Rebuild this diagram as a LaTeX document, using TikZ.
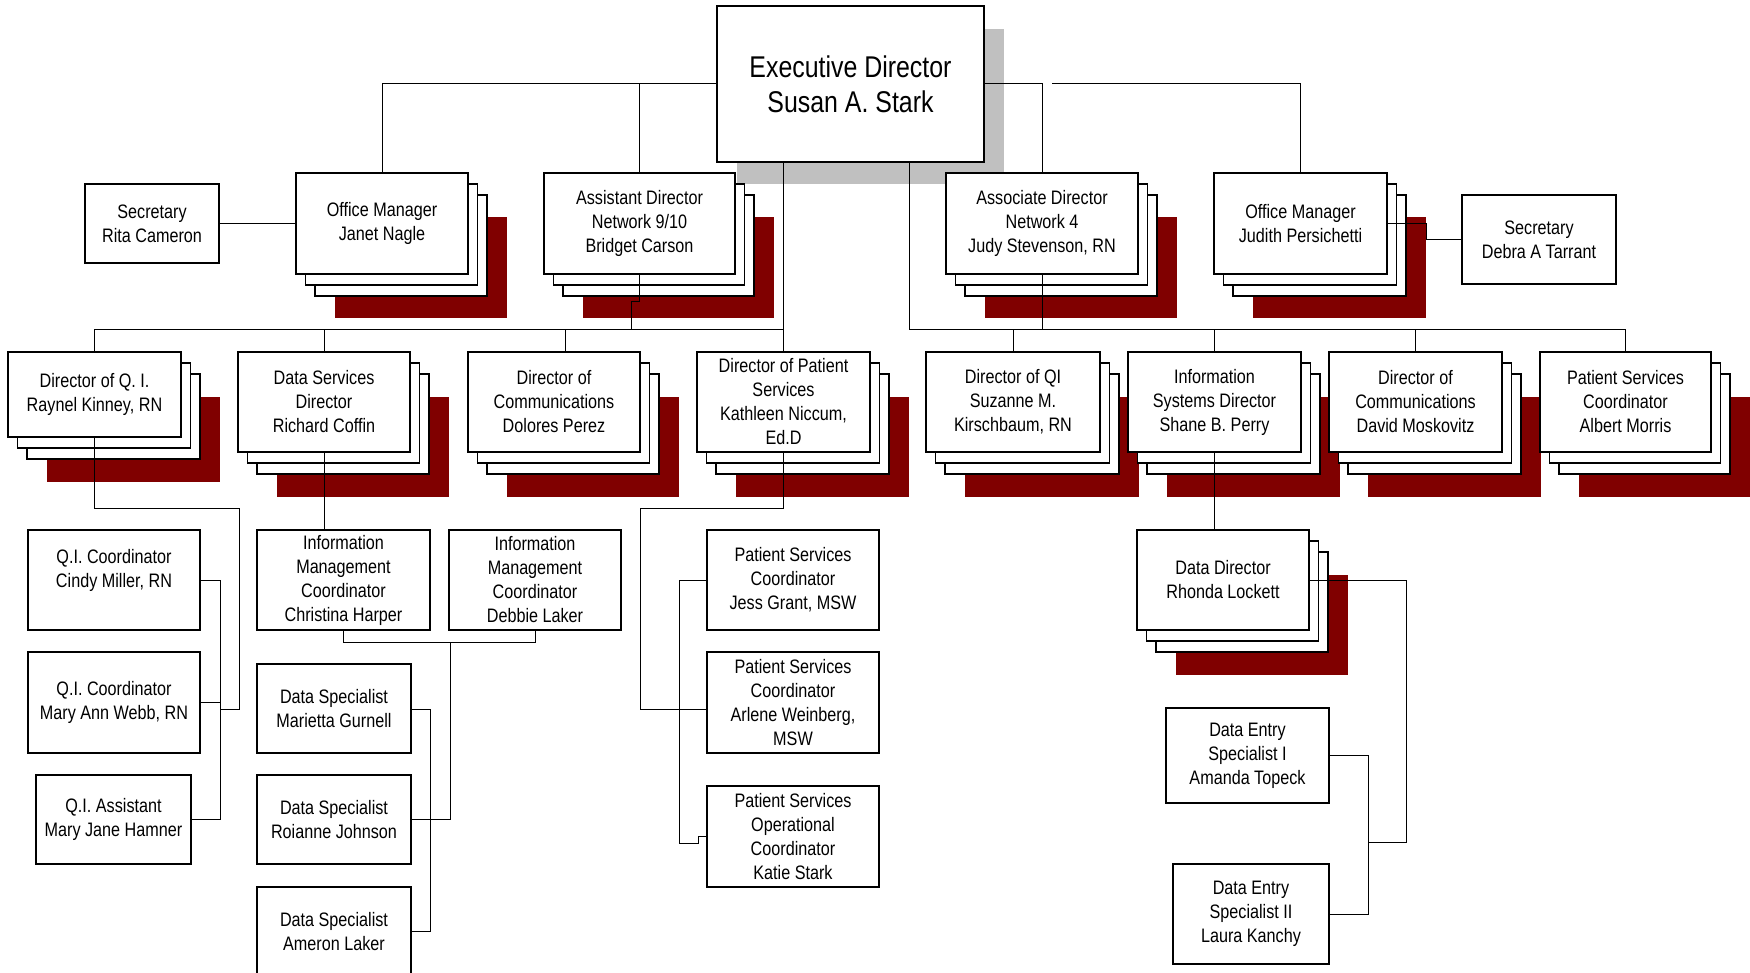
\documentclass[tikz,border=0pt]{standalone}
\usepackage{fontspec}
\setmainfont{Liberation Sans}[FakeStretch=0.83]
\definecolor{shred}{RGB}{128,0,0}
\definecolor{shgray}{RGB}{192,192,192}
\pgfdeclarelayer{bg}
\pgfdeclarelayer{mid}
\pgfsetlayers{bg,mid,main}
\tikzset{
  orgbox/.style={draw, line width=1.6pt, fill=white, inner sep=0pt, outer sep=0pt,
    align=center, font=\fontsize{19.5}{24}\selectfont},
  boxline/.style={draw, line width=1.6pt},
  conn/.style={draw, line width=1pt}
}
\newcommand\mkbox[7][]{%
  \pgfmathsetmacro\bxcx{(#3+#5)/2}\pgfmathsetmacro\bxcy{(#4+#6)/2}%
  \pgfmathsetmacro\bxw{#5-#3}\pgfmathsetmacro\bxh{#6-#4}%
  \node[orgbox, minimum width=\bxw pt, minimum height=\bxh pt, #1] (#2) at (\bxcx,\bxcy) {#7};}
\newcommand\stk[4]{%
  \begin{pgfonlayer}{bg}
  \fill[shred] (#1+38.5,#2+44.5) rectangle (#3+38.5,#4+44.5);
  \draw[boxline, fill=white] (#1+19,#2+22) rectangle (#3+19,#4+22);
  \draw[boxline, fill=white] (#1+9.5,#2+11) rectangle (#3+9.5,#4+11);
  \end{pgfonlayer}}
\begin{document}
\begin{tikzpicture}[x=1pt, y=-1pt]
\useasboundingbox (0,0) rectangle (1750,973);
% gray shadow of executive box
\begin{pgfonlayer}{bg}
\fill[shgray] (737,29) rectangle (1004,184);
\end{pgfonlayer}
% stacked shadows
\stk{296}{173}{468}{274}
\stk{544}{173}{735}{274}
\stk{946}{173}{1138}{274}
\stk{1214}{173}{1387}{274}
\stk{8}{352}{181}{437}
\stk{238}{352}{410}{452}
\stk{468}{352}{640}{452}
\stk{697}{352}{870}{452}
\stk{926}{352}{1100}{452}
\stk{1128}{352}{1301}{452}
\stk{1329}{352}{1502}{452}
\stk{1540}{352}{1711}{452}
\stk{1137}{530}{1309}{630}
% boxes
\mkbox[font=\fontsize{30}{35}\selectfont]{exec}{717}{6}{984}{162}{Executive Director\\Susan A. Stark}
\mkbox{rita}{85}{184}{219}{263}{Secretary\\Rita Cameron}
\mkbox{janet}{296}{173}{468}{274}{Office Manager\\Janet Nagle}
\mkbox{asst}{544}{173}{735}{274}{Assistant Director\\Network 9/10\\Bridget Carson}
\mkbox{assoc}{946}{173}{1138}{274}{Associate Director\\Network 4\\Judy Stevenson, RN}
\mkbox{judith}{1214}{173}{1387}{274}{Office Manager\\Judith Persichetti}
\mkbox{debra}{1462}{195}{1616}{284}{Secretary\\Debra A Tarrant}
\mkbox{raynel}{8}{352}{181}{437}{Director of Q. I.\\Raynel Kinney, RN}
\mkbox{rcoffin}{238}{352}{410}{452}{Data Services\\Director\\Richard Coffin}
\mkbox{dolores}{468}{352}{640}{452}{Director of\\Communications\\Dolores Perez}
\mkbox{kathleen}{697}{352}{870}{452}{Director of Patient\\Services\\Kathleen Niccum,\\Ed.D}
\mkbox{suzanne}{926}{352}{1100}{452}{Director of QI\\Suzanne M.\\Kirschbaum, RN}
\mkbox{shane}{1128}{352}{1301}{452}{Information\\Systems Director\\Shane B. Perry}
\mkbox{david}{1329}{352}{1502}{452}{Director of\\Communications\\David Moskovitz}
\mkbox{albert}{1540}{352}{1711}{452}{Patient Services\\Coordinator\\Albert Morris}
\mkbox{cindy}{28}{530}{200}{630}{Q.I. Coordinator\\Cindy Miller, RN\\\mbox{}}
\mkbox{maryann}{28}{652}{200}{753}{Q.I. Coordinator\\Mary Ann Webb, RN}
\mkbox{maryjane}{36}{775}{191}{864}{Q.I. Assistant\\Mary Jane Hamner}
\mkbox{christina}{257}{530}{430}{630}{Information\\Management\\Coordinator\\Christina Harper}
\mkbox{debbie}{449}{530}{621}{630}{Information\\Management\\Coordinator\\Debbie Laker}
\mkbox{marietta}{257}{664}{411}{753}{Data Specialist\\Marietta Gurnell}
\mkbox{roianne}{257}{775}{411}{864}{Data Specialist\\Roianne Johnson}
\mkbox{ameron}{257}{887}{411}{976}{Data Specialist\\Ameron Laker}
\mkbox{jess}{707}{530}{879}{630}{Patient Services\\Coordinator\\Jess Grant, MSW}
\mkbox{arlene}{707}{652}{879}{753}{Patient Services\\Coordinator\\Arlene Weinberg,\\MSW}
\mkbox{katie}{707}{786}{879}{887}{Patient Services\\Operational\\Coordinator\\Katie Stark}
\mkbox{rhonda}{1137}{530}{1309}{630}{Data Director\\Rhonda Lockett}
\mkbox{amanda}{1166}{708}{1329}{803}{Data Entry\\Specialist I\\Amanda Topeck}
\mkbox{laura}{1173}{864}{1329}{964}{Data Entry\\Specialist II\\Laura Kanchy}
% helper coordinates
\coordinate (busy) at (0,330);
\coordinate (execR) at (909.4,162);
\coordinate (qiA) at (239.4,508.3);
\coordinate (qiB) at (220.6,709.3);
\coordinate (imJ) at (450,642.3);
\coordinate (dsB) at (430,0);
\coordinate (psA) at (640.8,508.3);
\coordinate (psK) at (679.5,843.3);
\coordinate (deJ) at (1368.3,842.7);
% connectors
\begin{pgfonlayer}{mid}
\draw[conn] (janet.north) |- (exec.west);
\draw[conn] (asst.north |- exec.west) -- (asst.south) -- ++(0,28) -| ([xshift=-8pt]asst.south |- busy);
\draw[conn] (exec.east) -- (exec.east -| assoc.north) -- (assoc.north |- busy);
\draw[conn] ([xshift=10pt]exec.east -| assoc.north) -| (judith.north);
\draw[conn] (rita.east) -- (janet.west);
\draw[conn] (judith.east) -- ++(39,0) |- (debra.west);
% level 2 buses
\draw[conn] (kathleen.north) -- (kathleen.north |- exec.south);
\draw[conn] (raynel.north) -- (raynel.north |- busy) -- (kathleen.north |- busy);
\draw[conn] (rcoffin.north) -- (rcoffin.north |- busy);
\draw[conn] ([xshift=11pt]dolores.north) -- ([xshift=11pt]dolores.north |- busy);
\draw[conn] (execR) -- (execR |- busy) -| (albert.north);
\draw[conn] (suzanne.north) -- (suzanne.north |- busy);
\draw[conn] (shane.north) -- (shane.north |- busy);
\draw[conn] (david.north) -- (david.north |- busy);
% Q.I. branch
\draw[conn] (raynel.south) |- (qiA) |- (qiB);
\draw[conn] (cindy.east) -- (cindy.east -| qiB) -- (maryjane.east -| qiB) -- (maryjane.east);
\draw[conn] (maryann.east) -- (maryann.east -| qiB);
% data services branch
\draw[conn] (rcoffin.south) -- (rcoffin.south |- christina.north);
\draw[conn] (christina.south) -- ++(0,12) -| (debbie.south);
\draw[conn] (imJ) |- (roianne.east);
\draw[conn] ([yshift=-1pt]marietta.east) -- ([yshift=-1pt]marietta.east -| dsB) -- (ameron.east -| dsB) -- (ameron.east);
% patient services branch
\draw[conn] (kathleen.south) |- (psA) |- ([yshift=-7pt]arlene.west);
\draw[conn] (jess.west) -| (psK) -- ++(18.8,0) |- (katie.west);
% information systems branch
\draw[conn] (shane.south) -- (shane.south |- rhonda.north);
\draw[conn] (rhonda.east) -- ++(97,0) |- (deJ);
\draw[conn] (amanda.east) -- (amanda.east -| deJ) -- (laura.east -| deJ) -- (laura.east);
\end{pgfonlayer}
\end{tikzpicture}
\end{document}
